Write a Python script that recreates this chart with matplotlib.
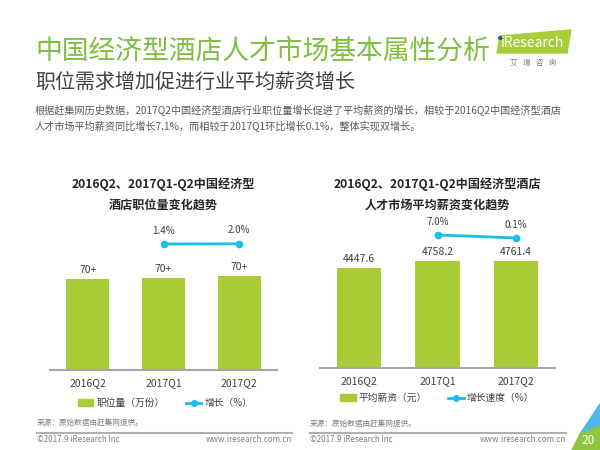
import numpy as np
import matplotlib
matplotlib.use("Agg")
import matplotlib.pyplot as plt
from matplotlib.patches import Polygon, Patch, Circle
from matplotlib.lines import Line2D

plt.rcParams["font.family"] = ["Noto Sans CJK SC", "DejaVu Sans"]

# ── data ────────────────────────────────────────────────────────────────────
quarters = ["2016Q2", "2017Q1", "2017Q2"]
jobs = [72.0, 72.8, 74.0]            # 职位量（万份），图中标注为 70+
jobs_labels = ["70+", "70+", "70+"]
jobs_growth = [1.4, 2.0]             # 2017Q1, 2017Q2
salary = [4447.6, 4758.2, 4761.4]    # 平均薪资（元）
salary_growth = [7.0, 0.1]

GREEN = "#A9CB35"
BLUE = "#1CBCEB"
TITLE_GREEN = "#7DBF3F"
DARK = "#404040"
GRAY = "#7F7F7F"

W, H = 600, 450
fig = plt.figure(figsize=(6, 4.5), dpi=100)


def fx(x):
    return x / W


def fy(y):
    return 1 - y / H


def ftext(x, y, s, **kw):
    fig.text(fx(x), fy(y), s, **kw)


# ── header ──────────────────────────────────────────────────────────────────
ftext(35, 51, "中国经济型酒店人才市场基本属性分析", fontsize=19.3,
      color=TITLE_GREEN, va="center")
ftext(35, 83, "职位需求增加促进行业平均薪资增长", fontsize=14.4,
      color="#404040", va="center")
ftext(35, 111, "根据赶集网历史数据，2017Q2中国经济型酒店行业职位量增长促进了平均薪资的增长，相较于2016Q2中国经济型酒店",
      fontsize=7.3, color="#595959", va="center")
ftext(35, 127, "人才市场平均薪资同比增长7.1%，而相较于2017Q1环比增长0.1%，整体实现双增长。",
      fontsize=7.3, color="#595959", va="center")

# logo
fig.patches.append(Polygon([(fx(500), fy(36)), (fx(571), fy(30)), (fx(567), fy(53)), (fx(497), fy(53))],
                           closed=True, transform=fig.transFigure, color="#A6CE39"))
ftext(533, 43, "iResearch", fontsize=10, color="white", ha="center", va="center")
fig.patches.append(Circle((fx(500.5), fy(38)), 1.8 / W, transform=fig.transFigure, color="#1F5FA8"))
ftext(533, 63, "艾   瑞   咨   询", fontsize=5.5, color="#808080", ha="center", va="center")


def chart(rect, values, labels, growth, g_ylim, b_ylim, title, leg_bar, leg_line, leg_xy):
    ax = fig.add_axes(rect)
    x = np.arange(len(quarters))
    bars = ax.bar(x, values, width=0.57, color=GREEN, zorder=2)
    ax.set_xlim(-0.5, 2.5)
    ax.set_ylim(*b_ylim)
    for b, lab in zip(bars, labels):
        ax.annotate(lab, (b.get_x() + b.get_width() / 2, b.get_height()),
                    xytext=(0, 3), textcoords="offset points",
                    ha="center", va="bottom", fontsize=7.5, color=DARK)
    ax.set_xticks(x)
    ax.set_xticklabels(quarters, fontsize=7.5, color=DARK)
    ax.tick_params(axis="x", length=0, pad=6)
    ax.set_yticks([])
    for s in ["top", "right", "left"]:
        ax.spines[s].set_visible(False)
    ax.spines["bottom"].set_color("#A6A6A6")
    ax.spines["bottom"].set_linewidth(1.5)
    ax.patch.set_alpha(0)

    ax2 = ax.twinx()
    gx = x[1:]
    ax2.plot(gx, growth, color=BLUE, lw=2, marker="o", markersize=4.5, zorder=3)
    for xi, g in zip(gx, growth):
        ax2.annotate(f"{g:.1f}%", (xi, g), xytext=(0, 6), textcoords="offset points",
                     ha="center", va="bottom", fontsize=7, color=DARK)
    ax2.set_ylim(*g_ylim)
    ax2.axis("off")

    cx = rect[0] + rect[2] / 2
    fig.text(cx, rect[1] + rect[3] + 0.012, title, ha="center", va="center",
             fontsize=8.7, fontweight="bold", color="#262626", linespacing=1.75)

    handles = [Patch(color=GREEN, label=leg_bar),
               Line2D([0], [0], color=BLUE, lw=2, marker="o", markersize=4, label=leg_line)]
    fig.legend(handles=handles, loc="center", ncol=2, frameon=False,
               bbox_to_anchor=(fx(leg_xy[0]), fy(leg_xy[1])),
               fontsize=7, handlelength=1.6, handleheight=0.6, handletextpad=0.3,
               columnspacing=2.2, labelcolor=DARK)
    return ax


chart([fx(50), fy(370), 227 / W, 170 / H], jobs, jobs_labels, jobs_growth,
      (-288.3, 102.7), (0, 134.5),
      "2016Q2、2017Q1-Q2中国经济型\n酒店职位量变化趋势",
      "职位量（万份）", "增长（%）", (165, 403))

chart([fx(320), fy(368), 235 / W, 168 / H], salary, [f"{v:.1f}" for v in salary], salary_growth,
      (-298.7, 87.3), (0, 7472),
      "2016Q2、2017Q1-Q2中国经济型酒店\n人才市场平均薪资变化趋势",
      "平均薪资（元）", "增长速度（%）", (437, 398))

# ── footers ─────────────────────────────────────────────────────────────────
for x0, x1, ys in [(37, 292, 423), (310, 566, 424)]:
    ftext(x0, ys, "来源：原始数据由赶集网提供。", fontsize=5.5, color=GRAY, va="center")
    fig.add_artist(Line2D([fx(x0), fx(x1)], [fy(433), fy(433)], color="#B0B0B0", lw=1.5))
    ftext(x0, 440, "©2017.9 iResearch Inc", fontsize=5.8, color=GRAY, va="center")
    ftext(x1, 440, "www.iresearch.com.cn", fontsize=5.8, color=GRAY, va="center", ha="right")

# page corner
fig.patches.append(Polygon([(fx(600), fy(404)), (fx(600), fy(426)), (fx(580), fy(434))],
                           closed=True, transform=fig.transFigure, color="#4FB8E8"))
fig.patches.append(Polygon([(fx(580), fy(434)), (fx(600), fy(426)), (fx(600), fy(450)), (fx(572), fy(450))],
                           closed=True, transform=fig.transFigure, color="#8DC63F"))
ftext(588, 441, "20", fontsize=8.5, color="white", ha="center", va="center")

fig.savefig("out.png", dpi=100)
